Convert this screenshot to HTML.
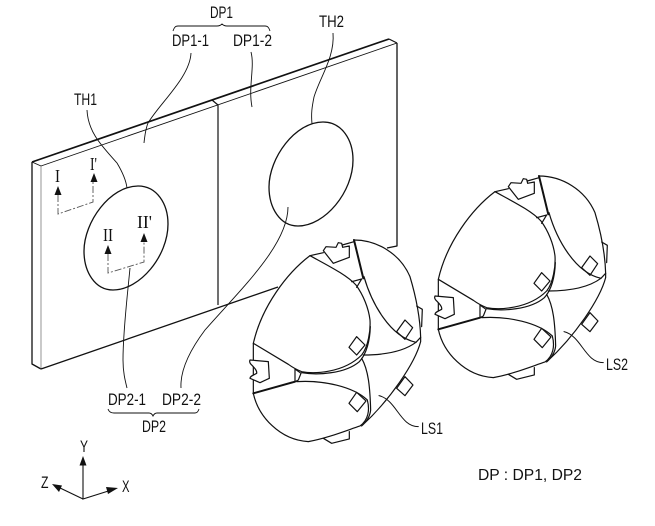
<!DOCTYPE html>
<html>
<head>
<meta charset="utf-8">
<style>
html,body{margin:0;padding:0;background:#fff;width:655px;height:526px;overflow:hidden}
svg{display:block}
text{font-family:"Liberation Sans",sans-serif;font-size:17px;fill:#111}
.s{font-family:"Liberation Serif",serif;font-size:18px}
</style>
</head>
<body>
<svg width="655" height="526" viewBox="0 0 655 526" xmlns="http://www.w3.org/2000/svg">
<defs>
<g id="ls" fill="none" stroke="#111" stroke-width="3.6" stroke-linejoin="round" stroke-linecap="round">
  <path d="M240 77C170 130 95 230 70 340L175 403C190 414 205 421 215 425C250 432 340 430 395 375C415 350 422 300 420 270C416 235 400 195 378 165C350 135 300 110 240 77Z"/>
  <path d="M215 428C260 436 345 432 388 395C410 372 420 330 421 290"/>
  <path d="M70 490C85 560 150 630 235 635C290 625 340 605 390 588C415 570 420 540 412 510C370 470 280 450 200 455"/>
  <path d="M395 385C415 420 420 470 422 540C420 560 410 575 395 588C480 510 555 400 572 335L572 322"/>
  <path d="M372 30C440 30 510 70 540 140C555 190 570 250 572 322L558 337C480 320 425 220 402 140"/>
  <path d="M400 375C460 375 520 365 558 337"/>
  <path d="M372 30L400 145" stroke-width="6"/>
  <path d="M365 155L395 147L380 172"/>
  <path d="M240 77L280 68"/>
  <path d="M337 45L372 35"/>
  <path d="M280 62L288 50L318 52L325 38L335 40L338 52L358 48L358 82L310 100Z"/>
  <path d="M70 340L70 490"/>
  <path d="M70 490L195 455" stroke-width="6"/>
  <path d="M60 390L115 395L118 445L90 458L60 445C60 438 70 436 80 430C82 422 72 412 62 402C59 398 58 394 60 390Z" fill="#fff"/>
  <path d="M195 417L213 430L205 450L195 455Z"/>
  <path d="M280 625L305 640L358 627L358 605"/>
  <path d="M525 270L548 293L525 328L500 305Z"/>
  <path d="M380 320L405 345L380 375L357 352Z"/>
  <path d="M380 487L408 513L382 545L357 520Z"/>
  <path d="M525 440L549 465L525 497L500 475Z"/>
  <path d="M560 228L577 238L575 290"/>
  <path d="M447 497C500 510 510 590 565 590" stroke-width="3"/>
</g>
<path id="el" d="M323 122C342 122 353 140 353 160C353 192 325 226 298 226C280 226 269 208 269 187C269 158 295 122 323 122Z"/>
</defs>

<!-- panel -->
<g fill="none" stroke="#111" stroke-linejoin="round">
  <path d="M32 162L389 39" stroke-width="1.7"/>
  <path d="M389 39L397 43" stroke-width="1.2"/>
  <path d="M32 162L41 166L397 43" stroke-width="0.9"/>
  <path d="M32 162V364L41 369" stroke-width="1.3"/>
  <path d="M41 166V369" stroke-width="0.7" stroke="#666"/>
  <path d="M41 369L278 287" stroke-width="1.3"/>
  <path d="M397 43V246L387 248" stroke-width="1.3"/>
  <path d="M212 100L218 105V305" stroke-width="1.2"/>
  <use href="#el" transform="translate(-185 64)" stroke-width="1.3"/>
  <use href="#el" stroke-width="1.3"/>
</g>

<!-- leaders and braces -->
<g fill="none" stroke="#111" stroke-width="0.9">
  <path d="M191 53C190 77 160 103 148 123C146 128 145 133 144 143"/>
  <path d="M251 52C255 67 248 87 252 107"/>
  <path d="M333 33C335 57 320 77 314 97C312 107 311 113 312 124"/>
  <path d="M87 110C88 133 103 147 117 163C123 173 126 180 127 188"/>
  <path d="M130 268C128 290 123 330 123 360C123 372 125 380 127 388"/>
  <path d="M288 207C288 245 240 290 205 330C190 350 180 370 181 388"/>
  <path d="M173 31C174 28 175 26 178 26H217C219 26 221 25 222 24C223 25 225 26 227 26H265C268 26 269 28 270 31"/>
  <path d="M108 409C109 412 111 413 114 413H149C151 413 152 414 153 416C154 414 155 413 157 413H195C197 413 198 412 199 409"/>
</g>

<!-- section markers -->
<g fill="none" stroke="#555" stroke-width="0.9" stroke-dasharray="7 2 2 2">
  <path d="M58 195V214L93 202V182"/>
  <path d="M108 254V273L144 262V242"/>
</g>
<g fill="#111">
  <path d="M58 186L61.500 195H54.500Z"/>
  <path d="M94 173L97.500 182H90.500Z"/>
  <path d="M108 245L111.500 254H104.500Z"/>
  <path d="M144 233L147.500 242H140.500Z"/>
</g>
<text class="s" x="55" y="182" textLength="5" lengthAdjust="spacingAndGlyphs">I</text>
<text class="s" x="90" y="170" textLength="7" lengthAdjust="spacingAndGlyphs">I'</text>
<text class="s" x="103" y="241" textLength="10" lengthAdjust="spacingAndGlyphs">II</text>
<text class="s" x="137" y="228" textLength="15" lengthAdjust="spacingAndGlyphs">II'</text>

<!-- light sources -->
<use href="#ls" transform="translate(230 230) scale(0.3333)"/>
<use href="#ls" transform="translate(415 166) scale(0.3333)"/>

<!-- axes -->
<g fill="none" stroke="#111" stroke-width="1.1">
  <path d="M83 463V499L110 490.500"/>
  <path d="M83 499L58 487"/>
</g>
<g fill="#111">
  <path d="M83 456L86.500 465.500H79.500Z"/>
  <path d="M118 488L108 494L106 487Z"/>
  <path d="M52 484L62 485.500L59 492Z"/>
</g>

<!-- labels -->
<text x="210" y="18" textLength="23" lengthAdjust="spacingAndGlyphs">DP1</text>
<text x="172" y="46" textLength="37" lengthAdjust="spacingAndGlyphs">DP1-1</text>
<text x="233" y="46" textLength="39" lengthAdjust="spacingAndGlyphs">DP1-2</text>
<text x="319" y="27" textLength="25" lengthAdjust="spacingAndGlyphs">TH2</text>
<text x="74" y="105" textLength="23" lengthAdjust="spacingAndGlyphs">TH1</text>
<text x="108" y="405" textLength="38" lengthAdjust="spacingAndGlyphs">DP2-1</text>
<text x="162" y="405" textLength="39" lengthAdjust="spacingAndGlyphs">DP2-2</text>
<text x="142" y="432" textLength="24" lengthAdjust="spacingAndGlyphs">DP2</text>
<text x="421" y="434" textLength="22" lengthAdjust="spacingAndGlyphs">LS1</text>
<text x="606" y="370" textLength="22" lengthAdjust="spacingAndGlyphs">LS2</text>
<text x="80" y="452" textLength="8" lengthAdjust="spacingAndGlyphs">Y</text>
<text x="41" y="488" textLength="7.500" lengthAdjust="spacingAndGlyphs">Z</text>
<text x="122" y="492" textLength="7.500" lengthAdjust="spacingAndGlyphs">X</text>
<text x="478" y="480" textLength="104" lengthAdjust="spacingAndGlyphs" style="font-size:15.500px">DP : DP1, DP2</text>
</svg>
</body>
</html>
